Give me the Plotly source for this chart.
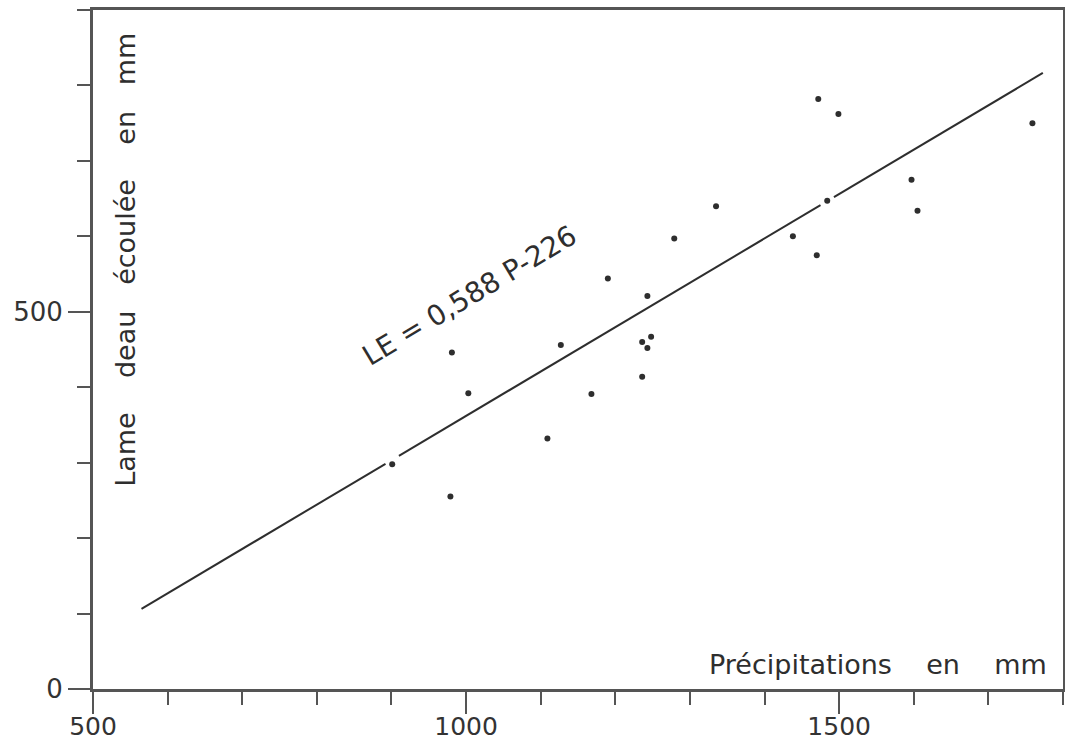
import plotly.graph_objects as go

# Annual precipitation (mm) and runoff depth (mm) per station-year
precip = [901, 979, 981, 1003, 1109, 1127, 1168, 1190, 1236, 1236, 1243, 1243,
          1248, 1279, 1335, 1438, 1470, 1472, 1484, 1499, 1597, 1605, 1759]
lame = [298, 255, 446, 392, 332, 456, 391, 544, 460, 414, 452, 521,
        467, 597, 640, 600, 575, 782, 647, 762, 675, 634, 750]

# Regression LE = a * P + b
slope = 0.588
intercept = -226
fit_span = [565, 1773]

x_ticks_labelled = [500, 1000, 1500]
y_ticks_labelled = [0, 500]

INK = "#2e2e2e"
AXIS = "#555555"
FONT = "DejaVu Sans"
NB = "\u00a0"


def fit(p):
    return slope * p + intercept


# Regression line, interrupted where a point sits on it
on_line = sorted(p for p, le in zip(precip, lame) if abs(le - fit(p)) < 10)
line_x = [fit_span[0]]
for p in on_line:
    line_x += [p - 9, None, p + 9]
line_x.append(fit_span[1])
line_y = [None if p is None else fit(p) for p in line_x]

fig = go.Figure()
fig.add_trace(go.Scatter(x=line_x, y=line_y, mode="lines",
                         line=dict(color=INK, width=2), connectgaps=False,
                         hoverinfo="skip", showlegend=False))
fig.add_trace(go.Scatter(x=precip, y=lame, mode="markers",
                         marker=dict(color=INK, size=6), showlegend=False))

axis_common = dict(
    showline=True, linecolor=AXIS, linewidth=3, mirror=True,
    showgrid=False, zeroline=False, automargin=False,
    ticks="outside", ticklen=22, tickwidth=2, tickcolor=AXIS,
    tickfont=dict(family=FONT, size=26, color="#333333"),
    minor=dict(ticks="outside", ticklen=13, tickwidth=2, tickcolor=AXIS,
               dtick=100, showgrid=False),
)

fig.update_xaxes(range=[500, 1800], tickvals=x_ticks_labelled,
                 ticktext=[str(v) for v in x_ticks_labelled],
                 ticklabelstandoff=-9, **axis_common)
fig.update_yaxes(range=[0, 900], tickvals=y_ticks_labelled,
                 ticktext=[str(v) for v in y_ticks_labelled],
                 **axis_common)
fig.update_xaxes(minor_tick0=500, tickfont_size=25)
fig.update_yaxes(minor_tick0=0)

fig.add_annotation(x=1005, y=521, xref="x", yref="y",
                   text="LE = 0,588 P-226", textangle=-31, showarrow=False,
                   font=dict(family=FONT, size=28, color=INK))
fig.add_annotation(x=0.034, y=0.632, xref="paper", yref="paper",
                   xanchor="center", yanchor="middle",
                   text=f"Lame{NB*4}deau{NB*3}écoulée{NB*4}en{NB*3}mm",
                   textangle=-90, showarrow=False,
                   font=dict(family=FONT, size=27, color=INK))
fig.add_annotation(x=0.986, y=0.036, xref="paper", yref="paper",
                   xanchor="right", yanchor="middle",
                   text=f"Précipitations{NB*4}en{NB*4}mm", showarrow=False,
                   font=dict(family=FONT, size=27, color=INK))

fig.update_layout(width=1065, height=745,
                  margin=dict(l=93, r=2, t=10, b=56),
                  paper_bgcolor="white", plot_bgcolor="white")

fig.write_html("out.html")
